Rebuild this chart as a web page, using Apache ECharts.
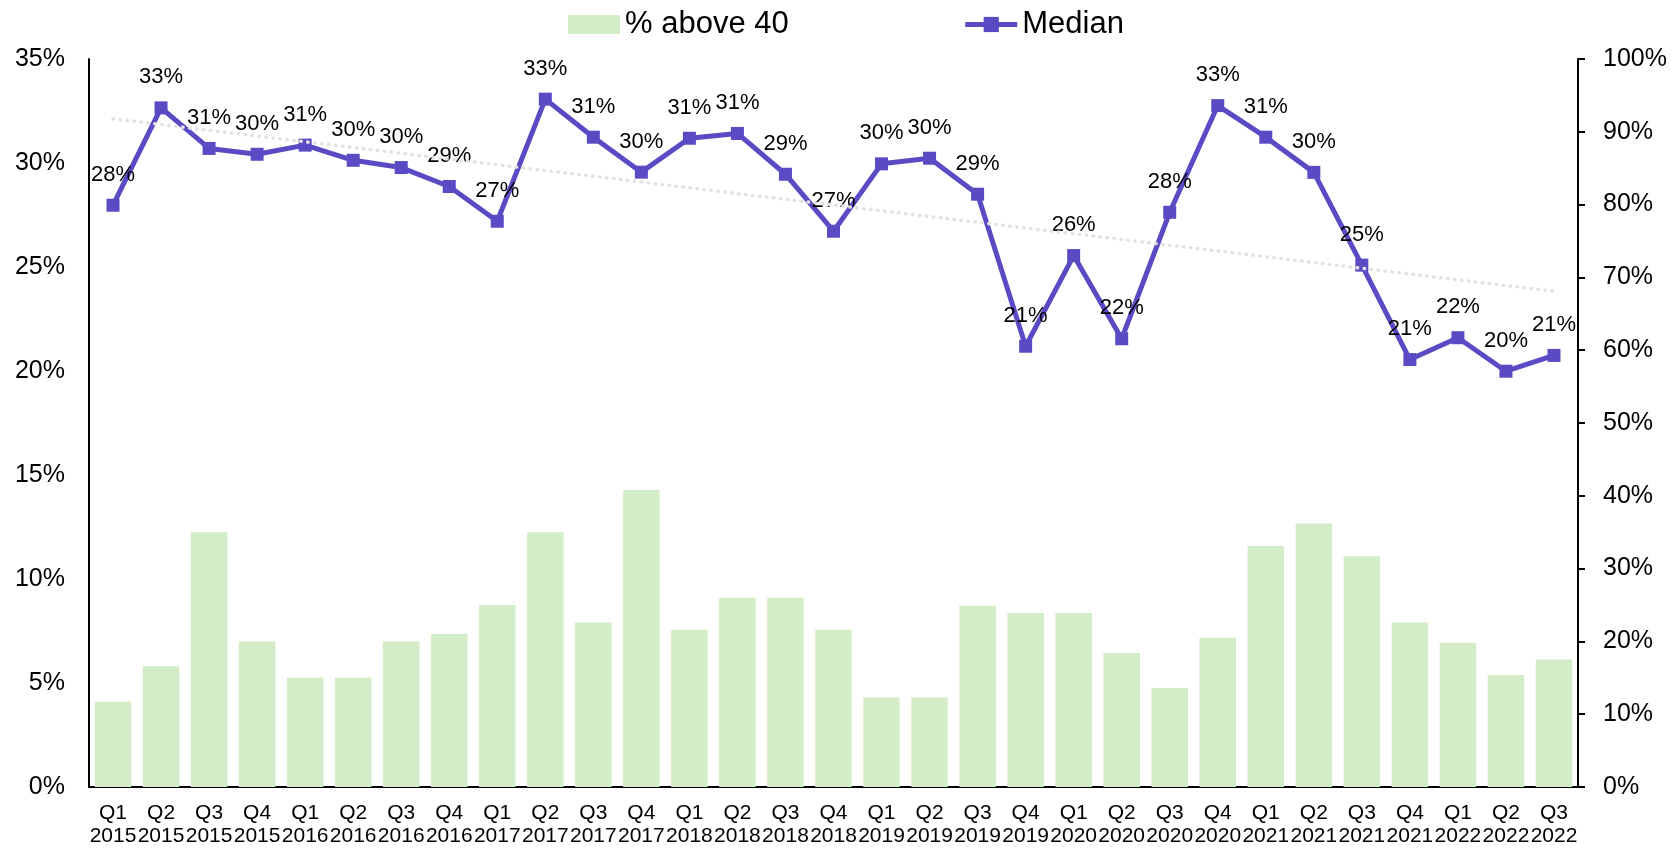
<!DOCTYPE html>
<html>
<head>
<meta charset="utf-8">
<script src="https://cdn.jsdelivr.net/npm/echarts@6/dist/echarts.min.js"></script>
<style>
  html, body { margin: 0; padding: 0; background: #ffffff; }
  #chart { width: 1672px; height: 851px; }
</style>
</head>
<body>
<div id="chart"></div>
<script>
// Quarterly categories
const quarters = ['Q1','Q2','Q3','Q4','Q1','Q2','Q3','Q4','Q1','Q2','Q3','Q4','Q1','Q2','Q3','Q4',
                  'Q1','Q2','Q3','Q4','Q1','Q2','Q3','Q4','Q1','Q2','Q3','Q4','Q1','Q2','Q3'];
const years = ['2015','2015','2015','2015','2016','2016','2016','2016','2017','2017','2017','2017',
               '2018','2018','2018','2018','2019','2019','2019','2019','2020','2020','2020','2020',
               '2021','2021','2021','2021','2022','2022','2022'];

// Share above 40 (right axis, %)
const above40 = [11.7, 16.6, 35, 20, 15, 15, 20, 21, 25, 35, 22.6, 40.8,
                 21.6, 26, 26, 21.6, 12.3, 12.3, 24.9, 23.9, 23.9, 18.4, 13.6, 20.5,
                 33.1, 36.2, 31.7, 22.6, 19.8, 15.4, 17.5];

// Median (left axis, %)
const median = [27.97, 32.65, 30.7, 30.42, 30.86, 30.13, 29.78, 28.87, 27.2, 33.07, 31.24, 29.56,
                31.19, 31.42, 29.46, 26.72, 29.96, 30.23, 28.5, 21.19, 25.55, 21.55, 27.63, 32.76,
                31.24, 29.55, 25.09, 20.55, 21.6, 19.99, 20.75];

// Left and right axis ranges
const leftAxis = { max: 35, step: 5 };
const rightAxis = { max: 100, step: 10 };

const categories = quarters.map((q, i) => q + '\n' + years[i]);

// Least-squares linear trend of the median series
function linearTrend(values) {
  const n = values.length;
  let sx = 0, sy = 0, sxy = 0, sxx = 0;
  values.forEach((v, i) => { sx += i; sy += v; sxy += i * v; sxx += i * i; });
  const slope = (n * sxy - sx * sy) / (n * sxx - sx * sx);
  const intercept = (sy - slope * sx) / n;
  return values.map((_, i) => intercept + slope * i);
}
const trend = linearTrend(median);

const FONT = '"Liberation Sans", Arial, "Helvetica Neue", sans-serif';
const PURPLE = '#5a4bc4';
const GREEN = '#d4ecc7';

const chart = echarts.init(document.getElementById('chart'), null, { renderer: 'canvas' });

chart.setOption({
  animation: false,
  backgroundColor: '#ffffff',
  textStyle: { fontFamily: FONT, color: '#000' },
  grid: { left: 89, right: 94, top: 59, bottom: 64, containLabel: false },
  legend: {
    data: [
      { name: '% above 40', icon: 'rect' },
      { name: 'Median', lineStyle: { width: 5, color: PURPLE }, itemStyle: { color: PURPLE } }
    ],
    left: 563,
    top: 4,
    itemWidth: 52,
    itemHeight: 19,
    itemGap: 174,
    textStyle: { fontFamily: FONT, fontSize: 31, color: '#000', padding: [0, 0, 0, 0] }
  },
  xAxis: {
    type: 'category',
    data: categories,
    boundaryGap: true,
    axisLine: { show: true, lineStyle: { color: '#000', width: 2 } },
    axisTick: { show: false },
    axisLabel: {
      interval: 0,
      fontFamily: FONT,
      fontSize: 21,
      lineHeight: 23,
      color: '#000',
      margin: 15
    }
  },
  yAxis: [
    {
      type: 'value',
      min: 0,
      max: leftAxis.max,
      interval: leftAxis.step,
      position: 'left',
      axisLine: { show: true, lineStyle: { color: '#000', width: 2 } },
      axisTick: { show: false },
      splitLine: { show: false },
      axisLabel: {
        formatter: v => v + '%',
        fontFamily: FONT,
        fontSize: 25,
        color: '#000',
        margin: 24
      }
    },
    {
      type: 'value',
      min: 0,
      max: rightAxis.max,
      interval: rightAxis.step,
      position: 'right',
      axisLine: { show: true, lineStyle: { color: '#000', width: 2 } },
      axisTick: { show: true, length: 7, lineStyle: { color: '#000', width: 2 } },
      splitLine: { show: false },
      axisLabel: {
        formatter: v => v + '%',
        fontFamily: FONT,
        fontSize: 25,
        color: '#000',
        margin: 25
      }
    }
  ],
  series: [
    {
      name: '% above 40',
      type: 'bar',
      yAxisIndex: 1,
      data: above40,
      barCategoryGap: '24%',
      itemStyle: { color: GREEN },
      z: 1
    },
    {
      name: 'Median',
      type: 'line',
      yAxisIndex: 0,
      data: median,
      symbol: 'rect',
      symbolSize: 13,
      showAllSymbol: true,
      lineStyle: { color: PURPLE, width: 5 },
      itemStyle: { color: PURPLE },
      label: {
        show: true,
        position: 'top',
        distance: 13,
        fontFamily: FONT,
        fontSize: 22,
        color: '#000',
        formatter: p => Math.round(p.value) + '%'
      },
      z: 3
    },
    {
      name: 'Trend',
      type: 'line',
      yAxisIndex: 0,
      data: trend,
      symbol: 'none',
      silent: true,
      lineStyle: { color: '#e2e2e2', width: 3.5, type: [0.5, 6.5], cap: 'round' },
      z: 4
    }
  ]
});
</script>
</body>
</html>
